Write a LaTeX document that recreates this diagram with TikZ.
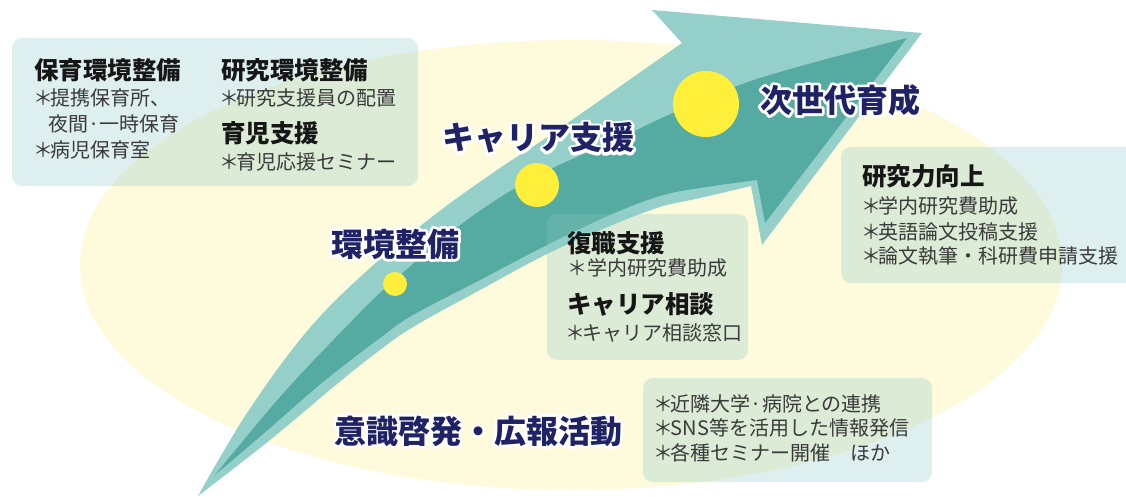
\documentclass[tikz,border=0pt]{standalone}
\usepackage{fontspec}
\setmainfont{Noto Sans CJK JP}
\definecolor{ellc}{HTML}{FEFADC}
\definecolor{arlt}{HTML}{94D0C9}
\definecolor{ardk}{HTML}{55ABA1}
\definecolor{dotc}{HTML}{FFEF3A}
\definecolor{navy}{HTML}{1F2366}
\definecolor{boxc}{RGB}{138,200,196}
\definecolor{headc}{HTML}{161616}
\definecolor{itemc}{HTML}{3A3A3A}
\newcommand\astk{\hbox to 0.78em{\hss＊\hss}}
\newcommand\strokedtext[1]{\special{pdf:literal direct 1 Tr 5.5 w 1 j 1 J}#1\special{pdf:literal direct 0 Tr}}
\tikzset{
  infobox/.style={fill=boxc,fill opacity=.29,rounded corners=10pt},
  headtxt/.style={anchor=west,inner sep=0pt,text=headc,font=\fontsize{24.5}{28}\selectfont\bfseries},
  itemtxt/.style={anchor=west,inner sep=0pt,text=itemc,font=\fontsize{20}{24}\selectfont},
  bigtxt/.style={inner sep=0pt,text=navy,font=\fontsize{32}{36}\selectfont\bfseries},
}
\newcommand\biglabel[3]{%
  \node[bigtxt,text=white] (#1h) at (#2) {\strokedtext{#3}};
  \node[bigtxt] (#1) at (#2) {#3};}
\begin{document}
\begin{tikzpicture}[x=1pt,y=-1pt]
\useasboundingbox (0,0) rectangle (1126,497);
\clip (0,0) rectangle (1126,497);
% background ellipse
\fill[ellc] (571,265) ellipse [x radius=491pt, y radius=225pt];
% arrow, light outline
\fill[arlt] plot[smooth,tension=.6] coordinates {(198,496) (247,413) (308,330) (370,268) (437,213) (500,168) (543,140) (612,92) (682,43)}
  -- (652,10) -- (922,33) -- (762,245)
  -- plot[smooth,tension=.6] coordinates {(751,186) (700,198) (660,207) (610,226) (547,254) (480,290) (413,327) (380,350) (337,384) (270,440) (198,496)} -- cycle;
% arrow, dark core
\fill[ardk] plot[smooth,tension=.6] coordinates {(215,475) (280,397) (343,330) (390,284) (467,220) (537,176) (620,138) (673,113) (760,78) (907,38)}
  -- (765,223)
  -- plot[smooth,tension=.6] coordinates {(757,180) (700,188) (660,196) (610,215) (547,245) (480,280) (413,315) (380,338) (323,382) (270,428) (215,475)} -- cycle;
% dots
\fill[dotc] (395,284) circle[radius=12pt];
\fill[dotc] (537,185) circle[radius=22pt];
\fill[dotc] (706,104) circle[radius=33pt];
% boxes
\fill[infobox] (12,38) rectangle (418,186);
\fill[infobox] (547,214) rectangle (748,360);
\fill[infobox] (841,147) rectangle (1150,283);
\fill[infobox] (643,378) rectangle (932,482);
% box 1
\node[headtxt] (h1a) at (34,70) {保育環境整備};
\node[itemtxt] (t1a) at (35,98) {\astk 提携保育所、};
\node[itemtxt] (t1b) at (48,124) {夜間·一時保育};
\node[itemtxt] (t1c) at (35,150) {\astk 病児保育室};
\node[headtxt] (h1b) at (221,70) {研究環境整備};
\node[itemtxt] (t1d) at (221,98) {\astk 研究支援員の配置};
\node[headtxt] (h1c) at (221,133) {育児支援};
\node[itemtxt] (t1e) at (221,162) {\astk 育児応援セミナー};
% box 2
\node[headtxt] (h2a) at (567,243) {復職支援};
\node[itemtxt] (t2a) at (567,268) {＊学内研究費助成};
\node[headtxt] (h2b) at (567,304) {キャリア相談};
\node[itemtxt] (t2b) at (567,333) {\astk キャリア相談窓口};
% box 3
\node[headtxt] (h3) at (862,176) {研究力向上};
\node[itemtxt] (t3a) at (863,206) {\astk 学内研究費助成};
\node[itemtxt] (t3b) at (863,232) {\astk 英語論文投稿支援};
\node[itemtxt] (t3c) at (863,256) {\astk 論文執筆・科研費申請支援};
% box 4
\node[itemtxt] (t4a) at (655,404) {\astk 近隣大学·病院との連携};
\node[itemtxt] (t4b) at (655,428) {\astk SNS等を活用した情報発信};
\node[itemtxt] (t4c) at (655,453) {\astk 各種セミナー開催　ほか};
% big labels
\biglabel{lbA}{840,100}{次世代育成}
\biglabel{lbB}{538,138}{キャリア支援}
\biglabel{lbC}{395,244}{環境整備}
\biglabel{lbD}{478,431}{意識啓発・広報活動}
\end{tikzpicture}
\end{document}
